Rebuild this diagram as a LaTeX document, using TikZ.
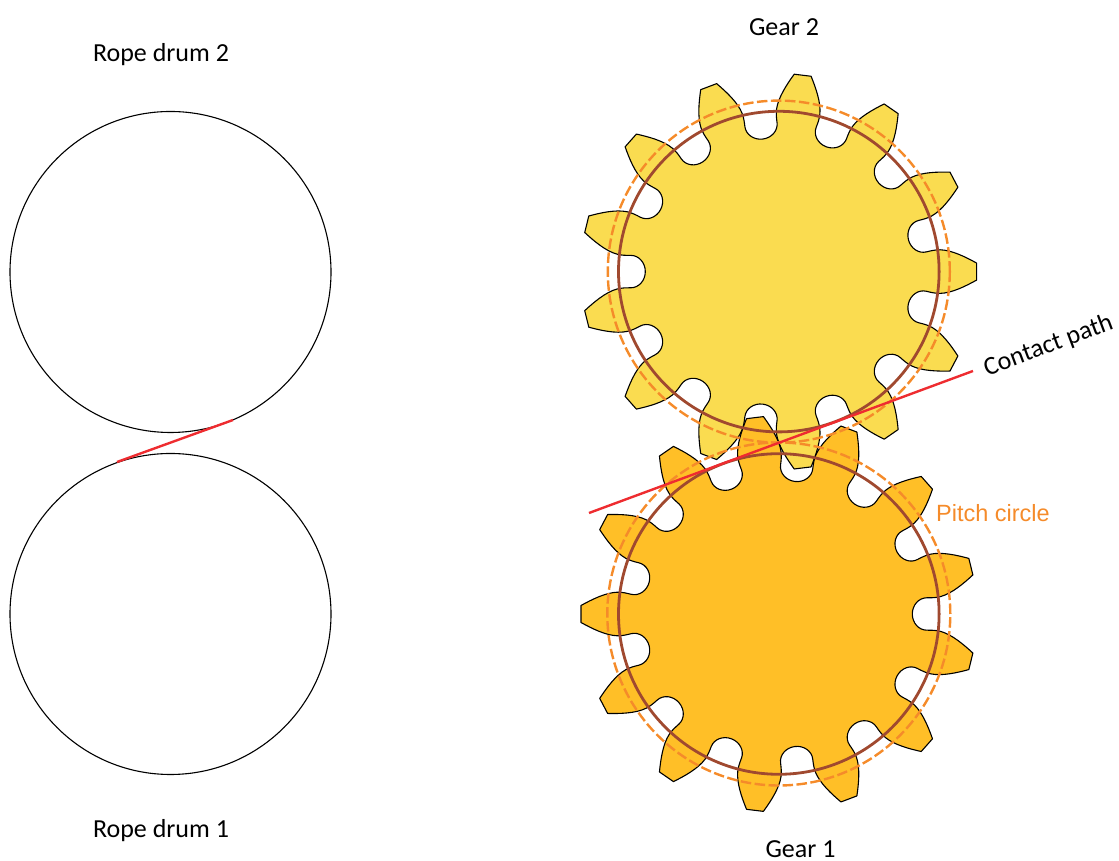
\documentclass[tikz,border=0pt]{standalone}
\usepackage{fontspec}
\setmainfont{Carlito}
\newfontfamily\arialf{Liberation Sans}
\definecolor{gearone}{HTML}{FFBF27}
\definecolor{geartwo}{HTML}{FADC50}
\definecolor{basec}{HTML}{A0492F}
\definecolor{pitchc}{HTML}{F58B2A}
\definecolor{contactc}{HTML}{EE2C30}
\tikzset{
  gearline/.style={draw=black,line width=1.1pt,line join=round},
  basecircle/.style={draw=basec,line width=2.8pt},
  pitchcircle/.style={draw=pitchc,line width=2.4pt,dash pattern=on 10.5pt off 3.5pt},
  contactline/.style={draw=contactc,line width=2.4pt},
  drum/.style={draw=black,line width=1.1pt},
  label/.style={font=\fontsize{26}{30}\selectfont,text=black,inner sep=0pt},
  pitchlabel/.style={font=\arialf\fontsize{23.5}{28}\selectfont,text=pitchc,inner sep=0pt},
}
\newcommand{\gearoutline}[1]{%
  ([rotate=#1]197.8,-8.5)
  \foreach \k [evaluate=\k as \a using {#1+\k*360/13},
               evaluate=\k as \b using {#1+\k*360/13+180/13},
               evaluate=\k as \c using {#1+(\k+1)*360/13}] in {0,...,12} {
    -- ([rotate=\a]197.8,-8.5) -- ([rotate=\a]197.8,8.5)
    .. controls ([rotate=\a]187,14.5) and ([rotate=\a]173,21.5) .. ([rotate=\a]161.3,21.8)
    .. controls ([rotate=\b]157,-16.2) and ([rotate=\b]153,-16.2) .. ([rotate=\b]148,-16.2)
    .. controls ([rotate=\b]140,-16.2) and ([rotate=\b]133.5,-9) .. ([rotate=\b]133.5,0)
    .. controls ([rotate=\b]133.5,9) and ([rotate=\b]140,16.2) .. ([rotate=\b]148,16.2)
    .. controls ([rotate=\b]153,16.2) and ([rotate=\b]157,16.2) .. ([rotate=\c]161.3,-21.8)
    .. controls ([rotate=\c]173,-21.5) and ([rotate=\c]187,-14.5) .. ([rotate=\c]197.8,-8.5)
  } -- cycle}
\begin{document}
\begin{tikzpicture}[x=1pt,y=1pt]
\useasboundingbox (0,0) rectangle (1119,861);
% rope drums
\coordinate (drumB) at (170.5,589);
\coordinate (drumA) at (170.5,247);
\draw[drum] (drumB) circle[radius=160.5];
\draw[drum] (drumA) circle[radius=160.5];
\coordinate (beltL) at (117,399);
\coordinate (beltR) at (233,441);
\draw[contactline] (beltL) -- (beltR);
% gears
\coordinate (gearB) at (778.8,589.4);
\coordinate (gearA) at (778.8,247);
\begin{scope}[shift={(gearB)}]
  \path[gearline,fill=geartwo] \gearoutline{0};
\end{scope}
\begin{scope}[shift={(gearA)}]
  \path[gearline,fill=gearone] \gearoutline{180};
\end{scope}
\draw[basecircle] (gearB) circle[radius=160.3];
\draw[basecircle] (gearA) circle[radius=160.3];
\draw[pitchcircle] (gearB) circle[radius=171];
\draw[pitchcircle] (gearA) circle[radius=171.5];
\coordinate (cpL) at (589,348);
\coordinate (cpR) at (973,490);
\draw[contactline] (cpL) -- (cpR);
% labels
\node[label] (t1) at (161,806.5) {Rope drum 2};
\node[label] (t2) at (161,30.5) {Rope drum 1};
\node[label] (t3) at (784,834) {Gear 2};
\node[label] (t4) at (800.5,11.5) {Gear 1};
\node[pitchlabel] (t5) at (993,348) {Pitch circle};
\node[label,rotate=20.5] (t6) at (1048.5,515) {Contact path};
\end{tikzpicture}
\end{document}
